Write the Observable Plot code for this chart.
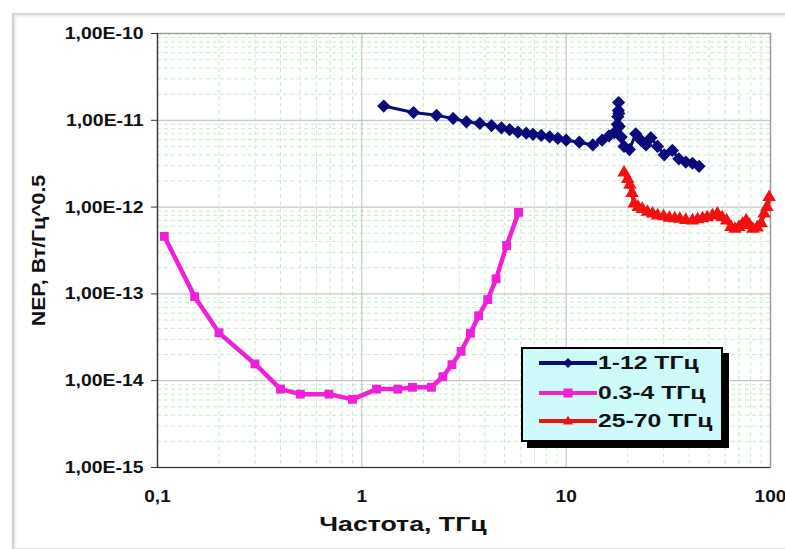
<!DOCTYPE html>
<html>
<head>
<meta charset="utf-8">
<script src="https://cdn.jsdelivr.net/npm/d3@7"></script>
<script src="https://cdn.jsdelivr.net/npm/@observablehq/plot@0.6"></script>
<style>
  html, body { margin: 0; padding: 0; background: #ffffff; }
  #wrap { position: relative; width: 785px; height: 549px; overflow: hidden; background: #fff; font-family: "Liberation Sans", Arial, sans-serif; }
  #outer { position: absolute; left: 12px; top: 13px; width: 800px; height: 533px; border-left: 2px solid #cfcfcf; border-top: 2px solid #d6d6d6; border-bottom: 2px solid #e0e0e0; box-shadow: inset 2px 2px 2px #eee; }
  #chart { position: absolute; left: 0; top: 0; }
  #legend { position: absolute; left: 521px; top: 347px; width: 198px; height: 91px; border: 2px solid #000; background: #cdfbfb; box-shadow: 6px 6px 0 #000; }
  .row { position: absolute; left: 16px; height: 24px; display: flex; align-items: center; }
  .row span { display: inline-block; font-weight: bold; font-size: 19px; color: #111; margin-left: 1px; transform: scaleX(1.3); transform-origin: left center; }
</style>
</head>
<body>
<div id="wrap">
  <div id="outer"></div>
  <div id="chart"></div>
  <div id="legend"></div>
</div>
<script>
// ---- data ----
const blueName = "1-12 ТГц";
const blueX = [1.28, 1.79, 2.32, 2.80, 3.25, 3.78, 4.31, 4.82, 5.29, 5.81, 6.38, 6.88, 7.55, 8.3, 9.1, 10, 11.6, 13.5, 15.0, 16.2, 17.2, 17.8, 17.9, 18.0, 18.05, 18.1, 18.2, 18.6, 19.2, 20.4, 21.9, 23.2, 24.6, 26.0, 28.0, 30.2, 33.1, 35.6, 38.5, 41.5, 44.7];
const blueY = [1.46e-11, 1.23e-11, 1.14e-11, 1.05e-11, 9.6e-12, 9.2e-12, 8.7e-12, 8.2e-12, 7.8e-12, 7.3e-12, 7.1e-12, 6.9e-12, 6.7e-12, 6.45e-12, 6.2e-12, 5.9e-12, 5.6e-12, 5.2e-12, 5.9e-12, 6.6e-12, 7.2e-12, 9.0e-12, 1.1e-11, 1.3e-11, 1.6e-11, 1.2e-11, 8.5e-12, 6.4e-12, 5.0e-12, 4.6e-12, 7.0e-12, 5.9e-12, 5.2e-12, 6.3e-12, 5.0e-12, 4.0e-12, 4.5e-12, 3.6e-12, 3.3e-12, 3.2e-12, 2.95e-12];

const magName = "0.3-4 ТГц";
const magX = [0.108, 0.152, 0.20, 0.30, 0.40, 0.50, 0.69, 0.90, 1.18, 1.5, 1.77, 2.19, 2.49, 2.76, 3.06, 3.40, 3.73, 4.13, 4.54, 5.11, 5.85];
const magY = [4.6e-13, 9.3e-14, 3.56e-14, 1.56e-14, 8.0e-15, 7.0e-15, 7.0e-15, 6.1e-15, 8.0e-15, 8.0e-15, 8.4e-15, 8.4e-15, 1.11e-14, 1.53e-14, 2.18e-14, 3.52e-14, 5.6e-14, 8.6e-14, 1.49e-13, 3.6e-13, 8.7e-13];

const redName = "25-70 ТГц";
const redX = [19.2, 20.0, 20.5, 21.0, 21.5, 22.5, 23.6, 25, 26.5, 28, 30, 32, 34, 36, 38.5, 41.5, 44, 46.5, 49, 52, 55, 58, 61, 64, 67, 70, 73, 76, 79, 82, 86, 90, 93, 96, 98.5];
const redY = [2.5e-12, 2.1e-12, 1.8e-12, 1.45e-12, 1.1e-12, 1.0e-12, 9.5e-13, 8.8e-13, 8.4e-13, 8.0e-13, 7.8e-13, 7.5e-13, 7.4e-13, 7.3e-13, 7.1e-13, 7.0e-13, 7.2e-13, 7.4e-13, 7.6e-13, 8.0e-13, 8.4e-13, 7.6e-13, 7.0e-13, 5.9e-13, 5.6e-13, 5.9e-13, 6.4e-13, 7.0e-13, 6.2e-13, 5.6e-13, 5.8e-13, 6.5e-13, 8.4e-13, 1.0e-12, 1.3e-12];

const xTicks = [0.1, 1, 10, 100];
const xTickLabels = ["0,1", "1", "10", "100"];
const yTicks = [1e-15, 1e-14, 1e-13, 1e-12, 1e-11, 1e-10];
const yTickLabels = ["1,00E-15", "1,00E-14", "1,00E-13", "1,00E-12", "1,00E-11", "1,00E-10"];
const xTitle = "Частота, ТГц";
const yTitle = "NEP, Вт/Гц^0.5";

// ---- build ----
const blue = blueX.map((x, i) => ({x, y: blueY[i]}));
const mag = magX.map((x, i) => ({x, y: magY[i]}));
const red = redX.map((x, i) => ({x, y: redY[i]}));

const minorX = [];
for (const d of [0.1, 1, 10]) for (let k = 2; k <= 9; k++) minorX.push(+(k * d).toPrecision(3));
const minorY = [];
for (const d of [1e-15, 1e-14, 1e-13, 1e-12, 1e-11]) for (let k = 2; k <= 9; k++) minorY.push(+(k * d).toPrecision(3));

const C_BLUE = "#0a0a7a", C_MAG = "#f020d8", C_RED = "#f21010";

const plot = Plot.plot({
  width: 785,
  height: 549,
  marginLeft: 157,
  marginRight: 15,
  marginTop: 33,
  marginBottom: 82,
  className: "nep",
  style: {fontFamily: "'Liberation Sans', Arial, sans-serif", background: "transparent", color: "#111"},
  x: {type: "log", domain: [0.1, 100]},
  y: {type: "log", domain: [1e-15, 1e-10]},
  marks: [
    Plot.ruleX(minorX, {stroke: "#c4eec4", strokeDasharray: "4,3"}),
    Plot.ruleY(minorY, {stroke: "#c4eec4", strokeDasharray: "4,3"}),
    Plot.ruleX([1, 10], {stroke: "#b8b8b8"}),
    Plot.ruleY([1e-14, 1e-13, 1e-12, 1e-11], {stroke: "#b8b8b8"}),
    Plot.frame({stroke: "#9a9a9a", strokeWidth: 1.5}),
    Plot.ruleX([0.1], {stroke: "#333", strokeWidth: 1.2}),
    Plot.ruleY([1e-15], {stroke: "#333", strokeWidth: 1.2}),
    Plot.axisY({ticks: yTicks, tickFormat: d => yTickLabels[yTicks.indexOf(d)], tickSize: 6, tickPadding: 8, fontSize: 17, fontWeight: "bold", label: null, stroke: "#333"}),
    Plot.axisX({ticks: xTicks, tickFormat: d => xTickLabels[xTicks.indexOf(d)], tickSize: 0, tickPadding: 22, fontSize: 17, fontWeight: "bold", label: null}),
    Plot.line(mag, {x: "x", y: "y", stroke: C_MAG, strokeWidth: 4.5}),
    Plot.dot(mag, {x: "x", y: "y", symbol: "square", r: 5, fill: C_MAG}),
    Plot.line(blue, {x: "x", y: "y", stroke: C_BLUE, strokeWidth: 3}),
    Plot.dot(blue, {x: "x", y: "y", symbol: "diamond2", r: 5, fill: C_BLUE, stroke: C_BLUE}),
    Plot.line(red, {x: "x", y: "y", stroke: C_RED, strokeWidth: 4}),
    Plot.dot(red, {x: "x", y: "y", symbol: "triangle", r: 5, fill: C_RED}),
    Plot.text([xTitle], {frameAnchor: "bottom", dx: -61, dy: 57, fontSize: 21, fontWeight: "bold", fill: "#111", textAnchor: "middle", lineAnchor: "middle", text: d => d}),
    Plot.text([yTitle], {frameAnchor: "left", dx: -119, fontSize: 19, fontWeight: "bold", fill: "#111", textAnchor: "middle", lineAnchor: "middle", rotate: -90, text: d => d})
  ]
});
document.getElementById("chart").appendChild(plot);

// widen glyphs like the original (horizontally stretched source)
function stretch(t, factor) {
  const w = t.getComputedTextLength();
  if (w > 0) {
    t.setAttribute("textLength", (w * factor).toFixed(1));
    t.setAttribute("lengthAdjust", "spacingAndGlyphs");
  }
}
plot.querySelectorAll('g[aria-label="y-axis tick label"] text').forEach(t => stretch(t, 1.14));
plot.querySelectorAll('g[aria-label="x-axis tick label"] text').forEach(t => stretch(t, 1.12));
plot.querySelectorAll("text").forEach(t => {
  if (t.textContent === xTitle) stretch(t, 1.27);
  if (t.textContent === yTitle) stretch(t, 1.12);
});

// legend (HTML overlay)
const legend = document.getElementById("legend");
const entries = [
  {name: blueName, color: C_BLUE, shape: "diamond", top: 2},
  {name: magName, color: C_MAG, shape: "square", top: 32},
  {name: redName, color: C_RED, shape: "triangle", top: 60}
];
for (const e of entries) {
  const row = document.createElement("div");
  row.className = "row";
  row.style.top = e.top + "px";
  let marker;
  if (e.shape === "diamond") marker = `<path d="M29,5 L34,10 L29,15 L24,10 Z" fill="${e.color}"/>`;
  else if (e.shape === "square") marker = `<rect x="24.5" y="5.5" width="9" height="9" fill="${e.color}"/>`;
  else marker = `<path d="M29,4.5 L34,13.5 L24,13.5 Z" fill="${e.color}"/>`;
  row.innerHTML = `<svg width="58" height="20"><line x1="0" y1="10" x2="58" y2="10" stroke="${e.color}" stroke-width="4"/>${marker}</svg><span>${e.name}</span>`;
  legend.appendChild(row);
}
</script>
</body>
</html>
